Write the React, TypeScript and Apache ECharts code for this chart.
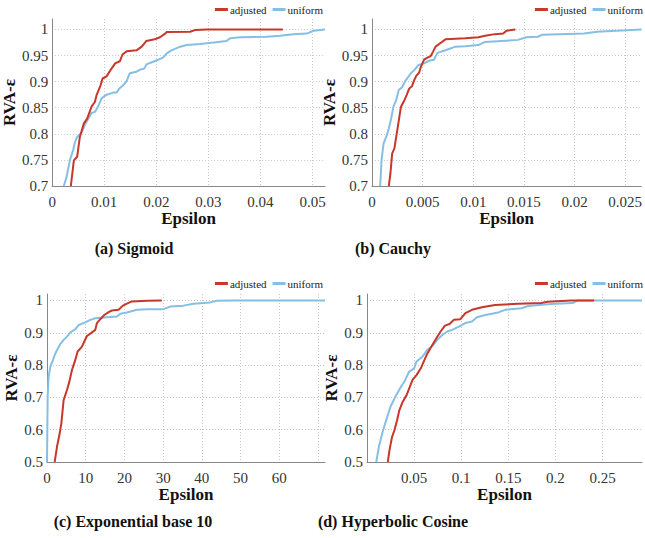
import React, { useEffect, useRef } from "react";
import * as echarts from "echarts";

// Panel (a) Sigmoid
const sigAdjX = [0.00359, 0.00417, 0.0048, 0.00532, 0.00609, 0.00673, 0.00756, 0.0082, 0.00853, 0.0093, 0.00968, 0.01045, 0.0114, 0.0121, 0.013, 0.0135, 0.0143, 0.0162, 0.0172, 0.0181, 0.0197, 0.0207, 0.0217, 0.022, 0.0265, 0.0274, 0.0297, 0.0443];
const sigAdjY = [0.7, 0.749, 0.756, 0.794, 0.82, 0.829, 0.852, 0.861, 0.874, 0.893, 0.906, 0.91, 0.925, 0.935, 0.939, 0.952, 0.958, 0.96, 0.967, 0.978, 0.981, 0.985, 0.992, 0.995, 0.9955, 0.9987, 1.0, 1.0];
const sigUniX = [0.00224, 0.00276, 0.0034, 0.00404, 0.00436, 0.0048, 0.00564, 0.00628, 0.00712, 0.00756, 0.0082, 0.00885, 0.00949, 0.01045, 0.01173, 0.0124, 0.0129, 0.01365, 0.0143, 0.0149, 0.0162, 0.0169, 0.0177, 0.0181, 0.0194, 0.0204, 0.0213, 0.022, 0.0229, 0.0246, 0.0258, 0.0284, 0.031, 0.0335, 0.0342, 0.0361, 0.0412, 0.0438, 0.0463, 0.0489, 0.0502, 0.0524];
const sigUniY = [0.7, 0.717, 0.749, 0.769, 0.783, 0.794, 0.802, 0.817, 0.832, 0.84, 0.842, 0.853, 0.868, 0.875, 0.879, 0.879, 0.887, 0.893, 0.901, 0.916, 0.919, 0.923, 0.925, 0.933, 0.938, 0.942, 0.946, 0.954, 0.96, 0.967, 0.97, 0.972, 0.975, 0.978, 0.983, 0.985, 0.986, 0.988, 0.991, 0.992, 0.9975, 1.0];

// Panel (b) Cauchy
const cauAdjX = [0.00166, 0.00182, 0.00199, 0.00221, 0.00244, 0.0027, 0.00286, 0.00319, 0.00342, 0.00368, 0.00394, 0.00417, 0.0044, 0.00465, 0.00482, 0.00498, 0.00514, 0.00547, 0.0058, 0.00602, 0.00628, 0.00677, 0.00726, 0.00921, 0.01051, 0.01117, 0.01214, 0.01296, 0.01328, 0.01416];
const cauAdjY = [0.7, 0.724, 0.762, 0.772, 0.8, 0.832, 0.852, 0.864, 0.874, 0.887, 0.891, 0.903, 0.912, 0.917, 0.928, 0.935, 0.942, 0.946, 0.949, 0.957, 0.967, 0.974, 0.981, 0.983, 0.985, 0.988, 0.991, 0.992, 0.9974, 1.0];
const cauUniX = [0.00081, 0.00094, 0.00114, 0.0014, 0.00166, 0.00189, 0.00212, 0.00238, 0.00264, 0.00296, 0.00335, 0.00384, 0.00417, 0.00459, 0.00514, 0.00563, 0.00612, 0.00645, 0.00726, 0.00824, 0.00921, 0.01051, 0.01117, 0.01442, 0.01523, 0.01637, 0.01686, 0.02093, 0.02223, 0.02419, 0.02663];
const cauUniY = [0.7, 0.749, 0.781, 0.794, 0.81, 0.829, 0.852, 0.864, 0.884, 0.889, 0.903, 0.916, 0.922, 0.932, 0.935, 0.94, 0.942, 0.955, 0.96, 0.967, 0.968, 0.97, 0.976, 0.98, 0.985, 0.986, 0.99, 0.992, 0.9955, 0.9974, 1.0];

// Panel (c) Exponential base 10
const expAdjX = [1.98, 2.58, 3.27, 3.7, 4.3, 5.16, 5.76, 6.45, 7.31, 7.91, 9.03, 9.63, 10.32, 11.35, 12.47, 12.9, 13.76, 14.79, 15.91, 16.77, 18.49, 19.6, 20.64, 21.93, 25.8, 29.66];
const expAdjY = [0.5, 0.547, 0.588, 0.619, 0.692, 0.723, 0.748, 0.785, 0.816, 0.842, 0.857, 0.873, 0.89, 0.899, 0.909, 0.93, 0.942, 0.955, 0.964, 0.969, 0.971, 0.984, 0.99, 0.997, 0.999, 1.0];
const expUniX = [0, 0.17, 0.43, 0.86, 1.55, 2.15, 2.84, 3.44, 4.3, 5.16, 6.02, 7.31, 8.17, 9.89, 11.18, 12.47, 14.62, 18.06, 18.92, 20.64, 23.22, 25.8, 30.09, 31.81, 35.25, 37.83, 42.13, 43.85, 48.15, 71.8];
const expUniY = [0.5, 0.702, 0.764, 0.795, 0.816, 0.836, 0.852, 0.865, 0.878, 0.888, 0.901, 0.911, 0.924, 0.932, 0.94, 0.945, 0.947, 0.95, 0.959, 0.963, 0.971, 0.973, 0.973, 0.981, 0.984, 0.99, 0.994, 0.999, 1.0, 1.0];

// Panel (d) Hyperbolic Cosine
const coshAdjX = [0.0221, 0.0238, 0.0266, 0.0291, 0.0319, 0.0343, 0.0378, 0.042, 0.0448, 0.0483, 0.0525, 0.0571, 0.0606, 0.0641, 0.0693, 0.0736, 0.0781, 0.0827, 0.0876, 0.0921, 0.0991, 0.1044, 0.1114, 0.1219, 0.1359, 0.1604, 0.1849, 0.1919, 0.2165, 0.241];
const coshAdjY = [0.5, 0.536, 0.578, 0.598, 0.629, 0.66, 0.686, 0.707, 0.728, 0.754, 0.769, 0.79, 0.814, 0.836, 0.862, 0.883, 0.904, 0.922, 0.927, 0.94, 0.942, 0.961, 0.971, 0.979, 0.986, 0.99, 0.992, 0.996, 1.0, 1.0];
const coshUniX = [0.0098, 0.0126, 0.0161, 0.0203, 0.0249, 0.0301, 0.0361, 0.0406, 0.0448, 0.0501, 0.0525, 0.0588, 0.0641, 0.0693, 0.0746, 0.0799, 0.0851, 0.0904, 0.0974, 0.1044, 0.1114, 0.1166, 0.1254, 0.1394, 0.1464, 0.1639, 0.1709, 0.1954, 0.2182, 0.2235, 0.2918];
const coshUniY = [0.5, 0.547, 0.588, 0.629, 0.671, 0.702, 0.733, 0.754, 0.78, 0.79, 0.811, 0.826, 0.847, 0.859, 0.878, 0.893, 0.904, 0.909, 0.919, 0.93, 0.935, 0.948, 0.955, 0.963, 0.971, 0.976, 0.983, 0.989, 0.992, 1.0, 1.0];

const seriesNames = ["adjusted", "uniform"];
const captions = ["(a) Sigmoid", "(b) Cauchy", "(c) Exponential base 10", "(d) Hyperbolic Cosine"];
const xMax = [0.0524, 0.0266, 71.8, 0.2918];
const xInterval = [0.01, 0.005, 10, 0.05];
// x tick labels that are printed in each panel
const xTickLabels = [
  [0, 0.01, 0.02, 0.03, 0.04, 0.05],
  [0, 0.005, 0.01, 0.015, 0.02, 0.025],
  [0, 10, 20, 30, 40, 50, 60],
  [0.05, 0.1, 0.15, 0.2, 0.25],
];
const yMin = [0.7, 0.7, 0.5, 0.5];
const yInterval = [0.05, 0.05, 0.1, 0.1];

const RED = "#c7372a";
const BLUE = "#86bfe4";
const SERIF = "Liberation Serif";

const zip = (xs: number[], ys: number[]) => xs.map((x, i) => [x, ys[i]]);

export default function App() {
  const ref = useRef<HTMLDivElement>(null);
  useEffect(() => {
    if (!ref.current) return;
    const chart = echarts.init(ref.current, undefined, { renderer: "svg" });
    const grids = [
      { left: 52, top: 19, width: 273, height: 167 },
      { left: 372, top: 19, width: 273, height: 167 },
      { left: 47, top: 294, width: 278, height: 168 },
      { left: 367, top: 294, width: 278, height: 168 },
    ];
    const yNameGap = [25, 25, 20, 20];
    const data = [
      [zip(sigAdjX, sigAdjY), zip(sigUniX, sigUniY)],
      [zip(cauAdjX, cauAdjY), zip(cauUniX, cauUniY)],
      [zip(expAdjX, expAdjY), zip(expUniX, expUniY)],
      [zip(coshAdjX, coshAdjY), zip(coshUniX, coshUniY)],
    ];
    const legendTops = [4, 4, 278, 278];
    const legendRights = [322, 2, 322, 2];
    const captionPos = [
      [134, 248],
      [393, 248],
      [133, 521],
      [393, 521],
    ];
    const gridLine = { show: true, showMinLine: false, showMaxLine: false, lineStyle: { color: "#c8c8c8", type: [1, 2], width: 1 } };
    const option: any = {
      animation: false,
      backgroundColor: "#fff",
      textStyle: { fontFamily: SERIF },
      grid: grids,
      legend: grids.map((_, i) => ({
        data: seriesNames,
        right: legendRights[i],
        top: legendTops[i],
        icon: "rect",
        itemWidth: 13,
        itemHeight: 3,
        itemGap: 6,
        selectedMode: false,
        textStyle: { fontFamily: SERIF, fontSize: 11, color: "#222", padding: [0, 0, 0, -3] },
        padding: 0,
      })),
      xAxis: grids.map((_, i) => ({
        type: "value",
        gridIndex: i,
        min: 0,
        max: xMax[i],
        interval: xInterval[i],
        name: "Epsilon",
        nameLocation: "middle",
        nameGap: 23,
        nameTextStyle: { fontFamily: SERIF, fontSize: 17, fontWeight: "bold", color: "#111" },
        axisLine: { show: true, lineStyle: { color: "#888", width: 1 } },
        axisTick: { show: false },
        axisLabel: {
          fontFamily: SERIF,
          fontSize: 15,
          color: "#333",
          margin: 8,
          formatter: (v: number) =>
            xTickLabels[i].some((t) => Math.abs(t - v) < xInterval[i] * 1e-3) ? String(+v.toPrecision(6)) : "",
        },
        splitLine: gridLine,
      })),
      yAxis: grids.map((_, i) => ({
        type: "value",
        gridIndex: i,
        min: yMin[i],
        max: 1.02,
        interval: yInterval[i],
        name: "RVA-ε",
        nameLocation: "middle",
        nameGap: yNameGap[i],
        nameRotate: 90,
        nameTextStyle: { fontFamily: SERIF, fontSize: 17, fontWeight: "bold", color: "#111" },
        axisLine: { show: true, lineStyle: { color: "#888", width: 1 } },
        axisTick: { show: false },
        axisLabel: {
          fontFamily: SERIF,
          fontSize: 15,
          color: "#333",
          margin: 4,
          showMaxLabel: false,
        },
        splitLine: gridLine,
      })),
      series: data.flatMap((pair, i) =>
        pair.map((d, j) => ({
          type: "line",
          name: seriesNames[j],
          xAxisIndex: i,
          yAxisIndex: i,
          data: d,
          showSymbol: false,
          symbol: "none",
          lineStyle: { color: j === 0 ? RED : BLUE, width: 2 },
          itemStyle: { color: j === 0 ? RED : BLUE },
          z: j === 0 ? 3 : 2,
        }))
      ),
      graphic: captions.map((t, i) => ({
        type: "text",
        x: captionPos[i][0],
        y: captionPos[i][1],
        style: {
          text: t,
          fontFamily: SERIF,
          fontSize: 16,
          fontWeight: "bold",
          fill: "#111",
          textAlign: "center",
          textVerticalAlign: "middle",
        },
      })),
    };
    chart.setOption(option);
    return () => chart.dispose();
  }, []);
  return <div ref={ref} style={{ position: "fixed", left: 0, top: 0, width: 645, height: 538 }} />;
}
